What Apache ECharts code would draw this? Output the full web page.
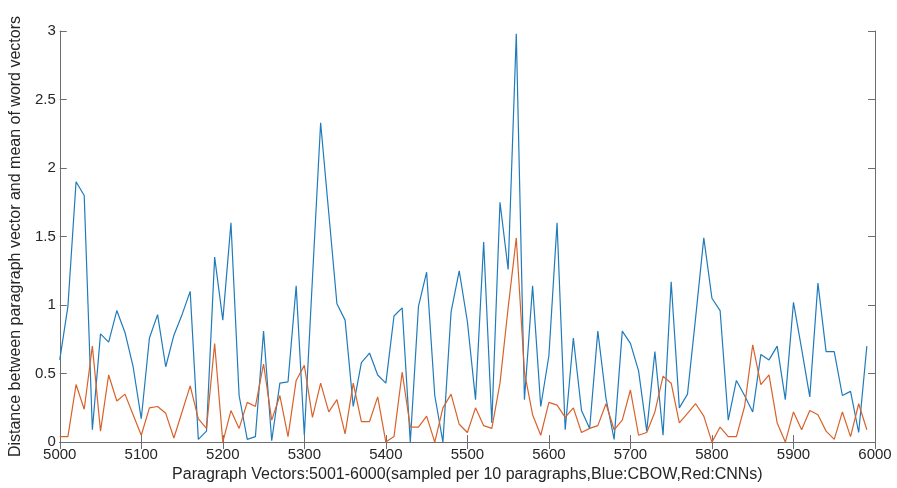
<!DOCTYPE html>
<html>
<head>
<meta charset="utf-8">
<script src="https://cdn.jsdelivr.net/npm/echarts@6/dist/echarts.min.js"></script>
<style>
  html, body { margin: 0; padding: 0; background: #fff; }
  #chart { width: 897px; height: 488px; }
</style>
</head>
<body>
<div id="chart"></div>
<script>
// paragraph index, sampled every 10 paragraphs
const paragraphs = [];
for (let i = 0; i < 100; i++) paragraphs.push(5000 + i * 10);

// Blue: CBOW
const cbowDist = [
  0.60, 0.99, 1.90, 1.80, 0.09, 0.79, 0.73, 0.96, 0.80, 0.55,
  0.17, 0.76, 0.93, 0.55, 0.78, 0.93, 1.10, 0.02, 0.08, 1.35,
  0.89, 1.60, 0.34, 0.02, 0.04, 0.81, 0.01, 0.43, 0.44, 1.14,
  0.05, 1.20, 2.33, 1.67, 1.01, 0.89, 0.26, 0.58, 0.65, 0.49,
  0.43, 0.92, 0.98, 0.00, 0.99, 1.24, 0.34, 0.00, 0.95, 1.25,
  0.88, 0.31, 1.46, 0.14, 1.75, 1.26, 2.98, 0.31, 1.14, 0.26,
  0.63, 1.60, 0.09, 0.76, 0.23, 0.10, 0.81, 0.32, 0.02, 0.81,
  0.72, 0.52, 0.08, 0.66, 0.05, 1.17, 0.25, 0.35, 0.91, 1.49,
  1.05, 0.96, 0.16, 0.45, 0.34, 0.22, 0.64, 0.60, 0.70, 0.31,
  1.02, 0.68, 0.33, 1.16, 0.66, 0.66, 0.34, 0.37, 0.07, 0.70
];

// Red: CNNs
const cnnDist = [
  0.04, 0.04, 0.42, 0.24, 0.70, 0.08, 0.49, 0.30, 0.35, 0.20,
  0.05, 0.25, 0.26, 0.21, 0.03, 0.22, 0.41, 0.17, 0.10, 0.72,
  0.00, 0.23, 0.10, 0.29, 0.26, 0.57, 0.16, 0.34, 0.04, 0.45,
  0.56, 0.18, 0.43, 0.22, 0.31, 0.06, 0.43, 0.15, 0.15, 0.33,
  0.00, 0.04, 0.51, 0.11, 0.11, 0.19, 0.00, 0.25, 0.35, 0.13,
  0.07, 0.25, 0.12, 0.10, 0.43, 0.98, 1.49, 0.51, 0.20, 0.05,
  0.29, 0.27, 0.18, 0.25, 0.07, 0.10, 0.12, 0.28, 0.09, 0.16,
  0.38, 0.05, 0.07, 0.22, 0.48, 0.43, 0.14, 0.21, 0.28, 0.19,
  0.00, 0.11, 0.04, 0.04, 0.26, 0.71, 0.42, 0.49, 0.14, 0.00,
  0.22, 0.09, 0.23, 0.20, 0.08, 0.02, 0.22, 0.04, 0.28, 0.09
];

const toPairs = (ys) => paragraphs.map((x, i) => [x, ys[i]]);

const font = '"Liberation Sans", Arial, Helvetica, sans-serif';
const frame = { show: true, lineStyle: { color: '#6e6e6e', width: 1 } };
const tickIn = { show: true, inside: true, length: 7, lineStyle: { color: '#6e6e6e' } };

const chart = echarts.init(document.getElementById('chart'));
chart.setOption({
  animation: false,
  backgroundColor: '#fff',
  grid: { left: 57, right: 22, top: 31, bottom: 42 },
  xAxis: [
    {
      type: 'value', min: 5000, max: 6000, interval: 100,
      axisLine: frame, axisTick: tickIn, splitLine: { show: false },
      axisLabel: { color: '#262626', fontSize: 15, fontFamily: font, margin: 5,
                   formatter: (v) => String(v) },
      name: 'Paragraph Vectors:5001-6000(sampled per 10 paragraphs,Blue:CBOW,Red:CNNs)',
      nameLocation: 'middle', nameGap: 21,
      nameTextStyle: { color: '#262626', fontSize: 16, fontFamily: font }
    },
    {
      type: 'value', position: 'top', min: 5000, max: 6000, interval: 100,
      axisLine: frame, axisTick: tickIn, axisLabel: { show: false }, splitLine: { show: false }
    }
  ],
  yAxis: [
    {
      type: 'value', min: 0, max: 3, interval: 0.5,
      axisLine: frame, axisTick: tickIn, splitLine: { show: false },
      axisLabel: { color: '#262626', fontSize: 15, fontFamily: font, margin: 4 },
      name: 'Distance between paragraph vector and mean of word vectors',
      nameLocation: 'middle', nameGap: 33,
      nameTextStyle: { color: '#262626', fontSize: 16, fontFamily: font }
    },
    {
      type: 'value', position: 'right', min: 0, max: 3, interval: 0.5,
      axisLine: frame, axisTick: tickIn, axisLabel: { show: false }, splitLine: { show: false }
    }
  ],
  series: [
    {
      name: 'CBOW', type: 'line', data: toPairs(cbowDist),
      showSymbol: false, lineStyle: { color: '#1f7bbb', width: 1.2 }
    },
    {
      name: 'CNNs', type: 'line', data: toPairs(cnnDist),
      showSymbol: false, lineStyle: { color: '#d9622b', width: 1.2 }
    }
  ]
});
</script>
</body>
</html>
